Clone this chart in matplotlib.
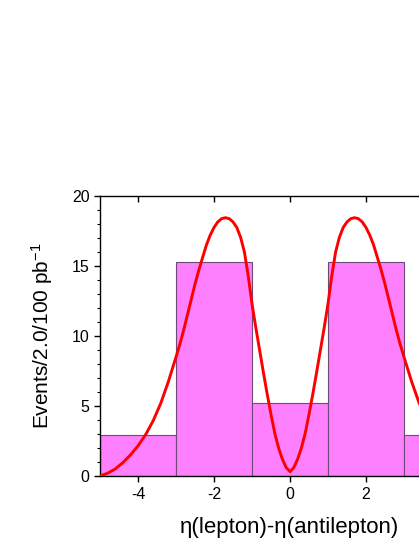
import matplotlib
matplotlib.use("Agg")
import matplotlib.pyplot as plt
from matplotlib.ticker import MultipleLocator

plt.rcParams['font.family'] = ['Liberation Sans', 'DejaVu Sans']
plt.rcParams['mathtext.fontset'] = 'custom'
plt.rcParams['mathtext.rm'] = 'Liberation Sans'
plt.rcParams['mathtext.it'] = 'Liberation Sans:italic'

# histogram bins (left edges), widths and counts
bin_left = [-5, -3, -1, 1, 3]
bin_width = [2, 2, 2, 2, 2]
counts = [2.9, 15.3, 5.2, 15.3, 2.9]

# fitted curve
curve_x = [-5.0, -4.8, -4.6, -4.4, -4.2, -4.0, -3.8, -3.6, -3.4, -3.2, -3.0,
           -2.9, -2.8, -2.7, -2.6, -2.5, -2.4, -2.3, -2.2, -2.1, -2.0,
           -1.9, -1.8, -1.7, -1.6, -1.5, -1.4, -1.3, -1.2, -1.1, -1.0,
           -0.9, -0.8, -0.7, -0.6, -0.5, -0.4, -0.3, -0.2, -0.1, 0.0,
           0.1, 0.2, 0.3, 0.4, 0.5, 0.6, 0.7, 0.8, 0.9, 1.0,
           1.1, 1.2, 1.3, 1.4, 1.5, 1.6, 1.7, 1.8, 1.9, 2.0,
           2.1, 2.2, 2.3, 2.4, 2.5, 2.6, 2.7, 2.8, 2.9, 3.0,
           3.2, 3.4, 3.6, 3.8, 4.0, 4.2, 4.4, 4.6, 4.8, 5.0]
curve_y = [0.0, 0.2, 0.5, 0.95, 1.5, 2.15, 2.95, 3.95, 5.2, 6.75, 8.5,
           9.4, 10.4, 11.5, 12.6, 13.7, 14.7, 15.6, 16.5, 17.2, 17.75,
           18.15, 18.38, 18.45, 18.38, 18.15, 17.75, 17.05, 16.0, 14.3, 12.3,
           10.6, 9.0, 7.4, 5.85, 4.4, 3.05, 2.0, 1.2, 0.6, 0.31,
           0.6, 1.2, 2.0, 3.05, 4.4, 5.85, 7.4, 9.0, 10.6, 12.3,
           14.3, 16.0, 17.05, 17.75, 18.15, 18.38, 18.45, 18.38, 18.15, 17.75,
           17.2, 16.5, 15.6, 14.7, 13.7, 12.6, 11.5, 10.4, 9.4, 8.5,
           6.75, 5.2, 3.95, 2.95, 2.15, 1.5, 0.95, 0.5, 0.2, 0.0]

xticks = [-4, -2, 0, 2, 4]
xticklabels = ['-4', '-2', '0', '2', '']
yticks = [0, 5, 10, 15, 20]

fig = plt.figure(figsize=(4.19, 5.42), dpi=100)
W, H = 419, 542
ax = fig.add_axes([100 / W, 66 / H, 380 / W, 280 / H])

ax.bar(bin_left, counts, width=bin_width, align='edge', color='#ff80ff',
       edgecolor='#6e4a78', linewidth=0.8, zorder=2)
ax.plot(curve_x, curve_y, color='#ff0000', linewidth=2.1, zorder=3,
        solid_joinstyle='round', solid_capstyle='round', clip_on=True)

ax.set_xlim(-5, 5)
ax.set_ylim(0, 20)
ax.set_xticks(xticks)
ax.set_yticks(yticks)
ax.set_xticklabels(xticklabels)
ax.yaxis.set_minor_locator(MultipleLocator(1))

for s in ax.spines.values():
    s.set_linewidth(1.0)
    s.set_color('black')

ax.tick_params(axis='x', which='major', direction='out', length=4.5, width=1.0,
               top=True, labelsize=11.5, pad=3.5)
ax.tick_params(axis='y', which='major', direction='out', length=4.5, width=1.0,
               labelsize=11.5, pad=3)
ax.tick_params(axis='y', which='minor', direction='out', length=2.5, width=0.8)
# top ticks point inward
for t in ax.xaxis.get_major_ticks():
    t.tick2line.set_marker(3)

ax.set_xlabel('η(lepton)-η(antilepton)', fontsize=16, labelpad=11)
ax.set_ylabel('Events/2.0/100 pb$^{-1}$', fontsize=15, labelpad=12)

fig.savefig('out.png', dpi=100)
